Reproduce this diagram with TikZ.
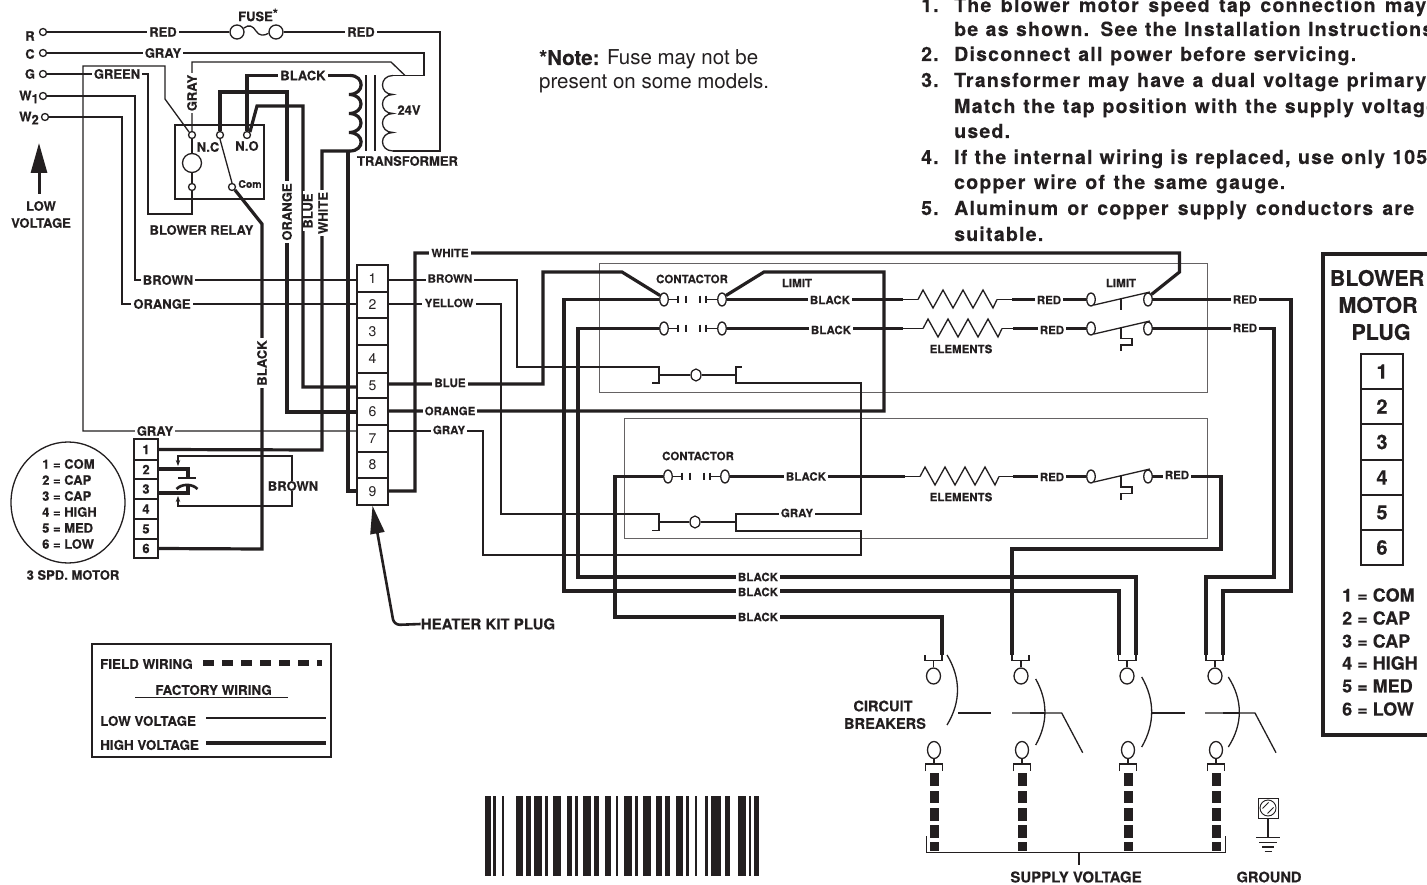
\documentclass[tikz,border=0pt]{standalone}
\usepackage{fontspec}
\setmainfont{TeX Gyre Heros}[BoldFeatures={FakeBold=0.25}]
\newfontfamily\notefont{TeX Gyre Heros}[LetterSpace=6.3,BoldFeatures={FakeBold=0.2}]
\usetikzlibrary{shapes.geometric,arrows.meta}
\definecolor{ink}{HTML}{231F20}
\newcommand{\fz}[1]{\fontsize{#1}{#1}\selectfont}
\newcommand{\heatel}[2]{\draw[lo] (#1,#2) -- ({#1+5},{#2-9.5}) -- ({#1+15},{#2+8.5}) -- ({#1+25},{#2-9.5}) -- ({#1+35},{#2+8.5}) -- ({#1+45},{#2-9.5}) -- ({#1+55},{#2+8.5}) -- ({#1+65},{#2-9.5}) -- ({#1+75},{#2+8.5}) -- ({#1+79},#2);}
\newcommand{\contbars}[3]{\draw[lo] (#1,#3) -- ({#1+14},#3) ({#1+14},{#3-3.8}) -- ({#1+14},{#3+3.8}) ({#1+22},{#3-3.8}) -- ({#1+22},{#3+3.8}) ({#1+36},{#3-3.8}) -- ({#1+36},{#3+3.8}) ({#1+42},{#3-3.8}) -- ({#1+42},{#3+3.8}) ({#1+42},#3) -- (#2,#3);}
\newcommand{\fitline}[2]{\makebox[#1pt][s]{#2}}
\tikzset{
  lo/.style={draw=ink,line width=1.3pt},
  hi/.style={draw=ink,line width=3.2pt},
  lab/.style={font=\fz{13}\bfseries,text=ink,fill=white,inner xsep=2.2pt,inner ysep=0.5pt},
  sml/.style={font=\fz{11.5}\bfseries,text=ink,fill=white,inner xsep=2.2pt,inner ysep=0.5pt},
  txt/.style={font=\fz{13}\bfseries,text=ink,inner sep=0pt},
  tsm/.style={font=\fz{11.5}\bfseries,text=ink,inner sep=0pt},
  big/.style={font=\fz{14.6}\bfseries,text=ink,inner sep=0pt},
  bigger/.style={font=\fz{15}\bfseries,text=ink,inner sep=0pt},
  term/.style={circle,draw=ink,line width=1.3pt,fill=white,inner sep=0pt,minimum size=7pt},
  cont/.style={ellipse,draw=ink,line width=1.3pt,fill=white,inner sep=0pt,minimum width=8.5pt,minimum height=13pt},
  hcell/.style={rectangle,draw=ink,line width=1.3pt,fill=white,inner sep=0pt,minimum width=31pt,font=\fz{14},text=ink},
  mcell/.style={rectangle,draw=ink,line width=1.5pt,fill=white,inner sep=0pt,minimum width=24pt,font=\fz{13}\bfseries,text=ink},
  pcell/.style={rectangle,draw=ink,line width=1.4pt,fill=white,inner sep=0pt,minimum width=42pt,font=\fz{20}\bfseries,text=ink},
  frame/.style={draw=ink!70,line width=0.8pt},
  note/.style={font=\notefont\fz{19.5}\bfseries,text=ink,inner sep=0pt,anchor=base west},
  lst/.style={font=\fz{18}\bfseries,text=ink,inner sep=0pt,anchor=west},
  mlst/.style={font=\fz{13}\bfseries,text=ink,inner sep=0pt,anchor=west},
  leg/.style={font=\fz{13.4}\bfseries,text=ink,inner sep=0pt,anchor=west},
  plugt/.style={font=\fz{21.5}\bfseries,text=ink,inner sep=0pt}
}
\begin{document}
\begin{tikzpicture}[x=1pt,y=-1pt,line cap=butt]
\clip (0,0) rectangle (1427,885);
\fill[white] (0,0) rectangle (1427,885);

% ---------- frames ----------
\draw[frame] (599,263) rectangle (1207,392);
\draw[frame] (624,418.5) rectangle (1207,538);

% ---------- terminals and components ----------
\node[term] (R) at (43,32) {};
\node[term] (C) at (43,53) {};
\node[term] (G) at (43,74) {};
\node[term] (W1) at (43,96) {};
\node[term] (W2) at (45,117) {};
\node[circle,draw=ink,line width=1.3pt,inner sep=0pt,minimum size=14pt] (fuseL) at (237,32) {};
\node[circle,draw=ink,line width=1.3pt,inner sep=0pt,minimum size=14pt] (fuseR) at (276,32) {};
\draw[lo] (fuseL.30) .. controls (249,24) and (253,26) .. (256,31) .. controls (259,36) and (264,36) .. (fuseR.190);

% relay
\node[rectangle,draw=ink,line width=1.3pt,inner sep=0pt,minimum width=89pt,minimum height=74pt] (rbox) at (219.5,162) {};
\node[term] (r1) at (192,135) {};
\node[term] (rNC) at (220,135) {};
\node[term] (rNO) at (247,135) {};
\node[term] (r2) at (192,187) {};
\node[term] (rCom) at (232,187) {};
\node[circle,draw=ink,line width=1.3pt,inner sep=0pt,minimum size=19pt] (rcoil) at (192,163) {};
\draw[lo] (r1.south) -- (rcoil.north);
\draw[lo] (rcoil.south) -- (r2.north);
\draw[lo] (rNC.south) -- (rCom.north);

% transformer
\coordinate (pt) at (350,75.5);
\coordinate (pb) at (350,151);
\coordinate (st) at (393,75.5);
\coordinate (sb) at (393,151);
\draw[hi] (pt) .. controls (365,75.5) and (365,94.5) .. (349,94.5)
  .. controls (365,94.5) and (365,113.5) .. (349,113.5)
  .. controls (365,113.5) and (365,132.5) .. (349,132.5)
  .. controls (365,132.5) and (365,151) .. (pb);
\draw[lo] (st) .. controls (379,75.5) and (379,94.5) .. (393,94.5)
  .. controls (379,94.5) and (379,113.5) .. (393,113.5)
  .. controls (379,113.5) and (379,132.5) .. (393,132.5)
  .. controls (379,132.5) and (379,151) .. (sb);
\draw[lo] (366,75.5) -- (366,151);
\draw[lo] (375,75.5) -- (375,151);

% heater plug
\node[hcell,minimum height=27pt] (T1) at (372.5,278.5) {1};
\node[hcell,minimum height=26pt] (T2) at (372.5,305) {2};
\node[hcell,minimum height=27pt] (T3) at (372.5,331.5) {3};
\node[hcell,minimum height=28pt] (T4) at (372.5,359) {4};
\node[hcell,minimum height=25pt] (T5) at (372.5,385.5) {5};
\node[hcell,minimum height=27pt] (T6) at (372.5,411.5) {6};
\node[hcell,minimum height=27pt] (T7) at (372.5,438.5) {7};
\node[hcell,minimum height=26pt] (T8) at (372.5,465) {8};
\node[hcell,minimum height=27pt] (T9) at (372.5,491.5) {9};

% motor plug
\node[mcell,minimum height=21pt] (M1) at (146,449.5) {1};
\node[mcell,minimum height=19pt] (M2) at (146,469.5) {2};
\node[mcell,minimum height=20pt] (M3) at (146,489) {3};
\node[mcell,minimum height=20pt] (M4) at (146,509) {4};
\node[mcell,minimum height=20pt] (M5) at (146,529) {5};
\node[mcell,minimum height=19pt] (M6) at (146,548.5) {6};

% motor circle
\node[ellipse,draw=ink,line width=1.3pt,inner sep=0pt,minimum width=114pt,minimum height=121pt] (mot) at (68,502.5) {};

% contacts
\contbars{664}{722}{299.5}
\contbars{664}{722}{328.5}
\contbars{668}{725}{476.5}
\node[cont] (c1a) at (664,299.5) {};
\node[cont] (c1b) at (722,299.5) {};
\node[cont] (c2a) at (664,328.5) {};
\node[cont] (c2b) at (722,328.5) {};
\node[cont] (c3a) at (668,476.5) {};
\node[cont] (c3b) at (725,476.5) {};

% limit switches
\node[cont] (l1a) at (1091,299.5) {};
\node[cont] (l1b) at (1148,299.5) {};
\node[cont] (l2a) at (1091,328.5) {};
\node[cont] (l2b) at (1148,328.5) {};
\node[cont] (l3a) at (1091,476.5) {};
\node[cont] (l3b) at (1148,476.5) {};
\draw[lo] (l1a.-60) -- (1150,292);
\draw[lo] (l2a.-60) -- (1150,321);
\draw[lo] (l3a.-60) -- (1150,469);
\draw[lo] (1121,298) -- (1121,310);
\draw[lo] (1121,327) -- (1121,338.5) -- (1132,338.5) -- (1132,345) -- (1121,345) -- (1121,351);
\draw[lo] (1121,475) -- (1121,487) -- (1132,487) -- (1132,493.5) -- (1121,493.5) -- (1121,500);

% sequencer coils
\node[cont,minimum width=10pt,minimum height=12pt] (q1) at (696,375) {};
\node[cont,minimum width=10pt,minimum height=12pt] (q2) at (695,522) {};
\coordinate (q1l) at (659,375);
\coordinate (q1r) at (736,375);
\coordinate (q2l) at (659,522);
\coordinate (q2r) at (736,522);
\draw[lo] (q1l) -- (q1.west);
\draw[lo] (q1.east) -- (q1r);
\draw[lo] (q2l) -- (q2.west);
\draw[lo] (q2.east) -- (q2r);

% heating elements
\heatel{918}{299.5}
\heatel{923}{328.5}
\heatel{920}{476.5}
\coordinate (e1a) at (903,299.5);
\coordinate (e1b) at (1012,299.5);
\coordinate (e2a) at (903,328.5);
\coordinate (e2b) at (1013,328.5);
\coordinate (e3a) at (905,476.5);
\coordinate (e3b) at (1013,476.5);
\draw[lo] (e1a) -- (918,299.5) (997,299.5) -- (e1b);
\draw[lo] (e2a) -- (923,328.5) (1002,328.5) -- (e2b);
\draw[lo] (e3a) -- (920,476.5) (999,476.5) -- (e3b);

% breakers: top and bottom terminals, dashed field wiring
\coordinate (b1r) at (942,655);
\coordinate (b2l) at (1012,655);
\coordinate (b3l) at (1119,655);
\coordinate (b3r) at (1136,655);
\coordinate (b4l) at (1206,655);
\coordinate (b4r) at (1223,655);
\foreach \n/\cx/\l/\r in {1/933.5/925/942,2/1021/1012/1029,3/1127/1118.5/1136,4/1215/1206/1223}{
  \node[ellipse,draw=ink,line width=1.3pt,inner sep=0pt,minimum width=14pt,minimum height=16pt] (bt\n) at (\cx,676) {};
  \draw[lo] (\l,655) -- (\l,660.5) -- (\r,660.5) -- (\r,655);
  \draw[lo] (\cx,660.5) -- (bt\n.north);
}
\foreach \n/\cx in {1/934,2/1022,3/1128,4/1216}{
  \node[ellipse,draw=ink,line width=1.3pt,inner sep=0pt,minimum width=13pt,minimum height=17pt] (bb\n) at (\cx,750) {};
  \draw[lo] ({\cx-8.5},771) -- ({\cx-8.5},764) -- ({\cx+8.5},764) -- ({\cx+8.5},771);
  \draw[lo] (bb\n.south) -- (\cx,764);
  \foreach \ya/\yb in {773/786,791/803,808/821,825/838,842/851}{
    \fill[ink] ({\cx-4.5},\ya) rectangle ({\cx+4.5},\yb);
  }
}
\draw[lo] (947,655) .. controls (961,678) and (961,702) .. (947,725);
\draw[lo] (1035.7,679) .. controls (1048,701) and (1048,723) .. (1035.7,745);
\draw[lo] (1141.7,677) .. controls (1155,700) and (1155,724) .. (1141.7,747);
\draw[lo] (1228.3,677) .. controls (1243,700) and (1243,724) .. (1228.3,747);
\draw[lo] (958,713) -- (991,713);
\draw[lo] (1012,713) -- (1061.7,713) -- (1082.7,752.7);
\draw[line width=2pt,draw=ink] (1030,713) -- (1045,713);
\draw[lo] (1152,713) -- (1185,713);
\draw[lo] (1205,713) -- (1255,713) -- (1276,752.7);
\draw[line width=2pt,draw=ink] (1223,713) -- (1239,713);

% supply bracket
\coordinate (sv) at (1079,865);
\draw[lo] (926.7,836) -- (926.7,852.7) -- (1225.7,852.7) -- (1225.7,836);
\draw[lo] (1079,852.7) -- (sv);

% ground
\node[rectangle,draw=ink,line width=0.9pt,inner sep=0pt,minimum size=20pt] (gs) at (1268,808) {};
\draw[ink,line width=0.9pt] (1268,808) circle (8);
\draw[ink,line width=0.9pt] (1262.5,808.5) -- (1268.5,802.5) (1267.5,813.5) -- (1273.5,807.5);
\coordinate (gb) at (1268,837.5);
\draw[lo] (gs.south) -- (gb);
\draw[lo] (1256,837.5) -- (1280,837.5);
\draw[ink,line width=1.1pt] (1259,842.5) -- (1277,842.5);
\draw[ink,line width=1.1pt] (1262,847) -- (1274,847);
\draw[ink,line width=1.1pt] (1264.5,851.5) -- (1271.5,851.5);

% ---------- thin wires ----------
\draw[lo] (R.east) -- (fuseL.west);
\draw[lo] (fuseR.east) -| (440,151) -- (sb);
\draw[lo] (C.east) -| (424,75.5) -- (st);
\draw[lo] (r1.north) -- (192,62) -- (391,62) -- (405,75.5);
\draw[lo] (G.east) -- (148,74) |- (192,214) -- (r2.south);
\draw[lo] (T7.west |- 83,431) -- (83,431) -- (83,66) -- (165,66) -- (165,99) -- (r1.north west);
\draw[lo] (W1.east) -| (135,280) -- (T1.west |- 135,280);
\draw[lo] (W2.east) -| (122,304) -- (T2.west |- 122,304);
\draw[lo] (T1.east |- 388,280) -| (517,367) -- (q1l |- 517,367) -- (q1l |- 517,383) -- (652,383);
\draw[lo] (652,367) -- (659,367);
\draw[lo] (T2.east |- 388,304) -| (501,514) -- (q2l |- 501,514) -- (q2l |- 501,530.5) -- (652,530.5);
\draw[lo] (652,514) -- (659,514);
\draw[lo] (T7.east |- 388,431) -| (483,555) -| (861,531) -- (736,531) -- (736,514) -- (861,514) -- (861,383) -- (736,383) -- (736,367) -- (742,367);
% brown loop at the capacitor
\coordinate (bc) at (292,486);
\draw[lo,-{Stealth[length=6pt,width=4.5pt]}] (bc) |- (178,456) -- (178,466);
\draw[lo,-{Stealth[length=6pt,width=4.5pt]}] (bc) |- (178,506) -- (178,496);

% ---------- thick wires ----------
\draw[hi] (rNC.north) |- (287,92) -- (287,412) -- (T6.west |- 287,412);
\draw[hi] (rNO.north) |- (pt);
\draw[hi] (rNO.north east) -- (257,106) -- (303,106) -- (303,387) -- (T5.west |- 303,387);
\draw[hi] (pb) -- (322,151) -- (322,450) -- (M1.east);
\draw[hi] (rCom.south east) -- (262,224) -- (262,549) -- (M6.east);
\draw[hi] (348,151) -- (348,491) -- (T9.west |- 348,491);
\draw[hi] (M2.east |- 158,469) -| (188,477);
\draw[hi] (M3.east |- 158,493) -| (188,485);
\draw[line width=2.6pt,draw=ink] (178,478) -- (196,478);
\draw[line width=2.6pt,draw=ink] (176.5,489) .. controls (182,483.5) and (192,483.5) .. (197.5,489);
\draw[hi] (T9.east |- 388,491) -| (415,253) -| (1179.5,272) -- (l1b.north east);
\draw[hi] (T5.east |- 388,384) -| (543,272) -- (622,272) -- (c1a.135);
\draw[hi] (T6.east |- 388,411) -| (884,272) -- (764,272) -- (c1b.45);
\draw[hi] (c1a.west) -| (564,591) -| (b3l);
\draw[hi] (c2a.west) -| (578,577) -| (b3r);
\draw[hi] (c3a.west) -| (615,617) -| (b1r);
\draw[hi] (c1b.east) -- (e1a);
\draw[hi] (c2b.east) -- (e2a);
\draw[hi] (c3b.east) -- (e3a);
\draw[hi] (e1b) -- (l1a.west);
\draw[hi] (e2b) -- (l2a.west);
\draw[hi] (e3b) -- (l3a.west);
\draw[hi] (l1b.east) -| (1291,591) -| (b4r);
\draw[hi] (l2b.east) -| (1274,577) -| (b4l);
\draw[hi] (l3b.east) -| (1221,549) -| (b2l);

% ---------- arrows ----------
\coordinate (la0) at (39,194);
\coordinate (la1) at (39,143);
\draw[line width=3pt,draw=ink,-{Triangle[length=30pt,width=16pt]}] (la0) -- (la1);

% ---------- wire labels ----------
\node[lab] (tRa) at (163,32) {RED};
\node[lab] (tRb) at (361,32) {RED};
\node[lab] (tGa) at (163,53) {GRAY};
\node[lab] (tGb) at (117,74) {GREEN};
\node[lab,rotate=90] (tGc) at (192,93) {GRAY};
\node[lab] (tBa) at (303,75.5) {BLACK};
\node[lab,rotate=90] (tOa) at (287,212) {ORANGE};
\node[lab,rotate=90] (tBl) at (308,211) {BLUE};
\node[lab,rotate=90] (tWh) at (323,213) {WHITE};
\node[lab,rotate=90] (tBb) at (262,363) {BLACK};
\node[lab] (tBr) at (168,280) {BROWN};
\node[lab] (tOr) at (162,304) {ORANGE};
\node[lab] (tGd) at (155,431) {GRAY};
\node[lab] (tBn) at (293,486) {BROWN};
\node[sml] (sWh) at (450,253) {WHITE};
\node[sml] (sBr) at (450,278.5) {BROWN};
\node[sml] (sYe) at (449,303) {YELLOW};
\node[sml] (sBl) at (450,383) {BLUE};
\node[sml] (sOr) at (450,411) {ORANGE};
\node[sml] (sGr) at (449,430) {GRAY};
\node[sml] (sBa) at (830,300) {BLACK};
\node[sml] (sBc) at (831,330) {BLACK};
\node[sml] (sBd) at (806,476.5) {BLACK};
\node[sml] (sGy) at (797,513) {GRAY};
\node[sml] (sRa) at (1049,300) {RED};
\node[sml] (sRb) at (1052,330) {RED};
\node[sml] (sRc) at (1052,477) {RED};
\node[sml] (sRd) at (1245,299.5) {RED};
\node[sml] (sRe) at (1245,328) {RED};
\node[sml] (sRf) at (1177,475) {RED};
\node[sml] (sBe) at (758,577) {BLACK};
\node[sml] (sBf) at (758,592) {BLACK};
\node[sml] (sBg) at (758,617) {BLACK};

% ---------- free text ----------
\node[txt] (tFuse) at (258,15) {FUSE\raisebox{3pt}{*}};
\node[txt] (tlR) at (30,36) {R};
\node[txt] (tlC) at (30,54) {C};
\node[txt] (tlG) at (30,74) {G};
\node[txt] (tlW1) at (29,97) {W\raisebox{-3pt}{1}};
\node[txt] (tlW2) at (29,118) {W\raisebox{-3pt}{2}};
\node[txt] (tLow) at (41,206) {LOW};
\node[txt] (tVol) at (41,223) {VOLTAGE};
\node[txt] (tNC) at (208,147) {N.C};
\node[txt] (tNO) at (247,146) {N.O};
\node[txt,font=\fz{10.5}\bfseries] (tCom) at (250,184) {Com};
\node[txt] (t24) at (409,110) {24V};
\node[txt] (tTr) at (407.5,161) {TRANSFORMER};
\node[txt] (tBR) at (201.5,230) {BLOWER RELAY};
\node[mlst] (ml1) at (42,464) {1 = COM};
\node[mlst] (ml2) at (42,480) {2 = CAP};
\node[mlst] (ml3) at (42,496) {3 = CAP};
\node[mlst] (ml4) at (42,512) {4 = HIGH};
\node[mlst] (ml5) at (42,528) {5 = MED};
\node[mlst] (ml6) at (42,544) {6 = LOW};
\node[txt] (tSpd) at (73,575) {3 SPD. MOTOR};
\node[bigger] (tHK) at (488,624) {HEATER KIT PLUG};
\draw[line width=2.6pt,draw=ink,rounded corners=6pt,-{Triangle[length=28pt,width=14pt]}] (tHK.west) -- (394,625) -- (T9.south);
\node[tsm] (cA) at (692,279) {CONTACTOR};
\node[tsm] (cB) at (698,456) {CONTACTOR};
\node[tsm] (cL) at (797,283) {LIMIT};
\node[tsm] (cM) at (1121,283) {LIMIT};
\node[tsm] (cE) at (961,349) {ELEMENTS};
\node[tsm] (cF) at (961,497) {ELEMENTS};
\node[big] (tCB) at (883,706) {CIRCUIT};
\node[big] (tCC) at (885,723.5) {BREAKERS};
\node[bigger] (tSV) at (1076,877) {SUPPLY VOLTAGE};
\node[big] (tGn) at (1269,877) {GROUND};

% note
\node[font=\fz{20.5},text=ink,inner sep=0pt,anchor=base west] (nA) at (539,65) {\textbf{*Note:} Fuse may not be};
\node[font=\fz{20.5},text=ink,inner sep=0pt,anchor=base west] (nB) at (539,89) {present on some models.};

% numbered notes
\node[note] (d1) at (921,12) {1.};
\node[note] (d2) at (921,61) {2.};
\node[note] (d3) at (921,87) {3.};
\node[note] (d4) at (921,164) {4.};
\node[note] (d5) at (921,215) {5.};
\node[note] (e1) at (954,12) {\fitline{472}{The blower motor speed tap connection may}};
\node[note] (e2) at (954,36) {\fitline{479}{be as shown. See the Installation Instructions}};
\node[note] (e3) at (954,61) {\fitline{402}{Disconnect all power before servicing.}};
\node[note] (e4) at (954,87) {\fitline{472}{Transformer may have a dual voltage primary}};
\node[note] (e5) at (954,113) {\fitline{483}{Match the tap position with the supply voltage}};
\node[note] (e6) at (954,138) {used.};
\node[note] (e7) at (954,164) {\fitline{473}{If the internal wiring is replaced, use only 105}};
\node[note] (e8) at (954,189) {\fitline{331}{copper wire of the same gauge.}};
\node[note] (e9) at (954,215) {\fitline{460}{Aluminum or copper supply conductors are}};
\node[note] (e10) at (954,241) {suitable.};

% legend
\node[rectangle,draw=ink,line width=1.5pt,inner sep=0pt,minimum width=239pt,minimum height=113pt] (lgbox) at (211.5,700.5) {};
\node[leg] (lg1) at (100,664) {FIELD WIRING};
\foreach \xa/\xb in {203/214,222/233,241/252,260/271,279/290,298/309,317/322}{
  \fill[ink] (\xa,660) rectangle (\xb,666);
}
\node[txt,font=\fz{13.4}\bfseries] (lg2) at (213.5,690) {FACTORY WIRING};
\draw[lo] (135,697.5) -- (288,697.5);
\node[leg] (lg3) at (100,721) {LOW VOLTAGE};
\draw[draw=ink,line width=1.5pt] (206,718) -- (326,718);
\node[leg] (lg4) at (100,745) {HIGH VOLTAGE};
\draw[hi] (206,743) -- (326,743);

% blower motor plug
\draw[draw=ink,line width=3.5pt] (1440,254) -- (1323,254) -- (1323,735) -- (1440,735);
\node[plugt] (pa) at (1377,278) {BLOWER};
\node[plugt] (pb2) at (1378,305) {MOTOR};
\node[plugt] (pc) at (1381,332) {PLUG};
\node[pcell,minimum height=35pt] (P1) at (1382,371.5) {1};
\node[pcell,minimum height=35pt] (P2) at (1382,406.5) {2};
\node[pcell,minimum height=36pt] (P3) at (1382,442) {3};
\node[pcell,minimum height=35pt] (P4) at (1382,477.5) {4};
\node[pcell,minimum height=35pt] (P5) at (1382,512.5) {5};
\node[pcell,minimum height=35pt] (P6) at (1382,547.5) {6};
\node[lst] (pl1) at (1342,595) {1 = COM};
\node[lst] (pl2) at (1342,618) {2 = CAP};
\node[lst] (pl3) at (1342,641) {3 = CAP};
\node[lst] (pl4) at (1342,663) {4 = HIGH};
\node[lst] (pl5) at (1342,686) {5 = MED};
\node[lst] (pl6) at (1342,709) {6 = LOW};

% barcode
\foreach \a/\b in {15/33,40/49,65/73,107/130,139/154,163/186,196/204,220/244,260/276,285/293,310/333,342/358,375/392,407/415,431/455,464/473,489/513,529/545,554/571,587/610,619/627,644/652,676/684,692/724,734/750,775/798,806/814,822/838}{
  \fill[ink] ({480+\a/3},796) rectangle ({480+\b/3},876);
}
\end{tikzpicture}
\end{document}
